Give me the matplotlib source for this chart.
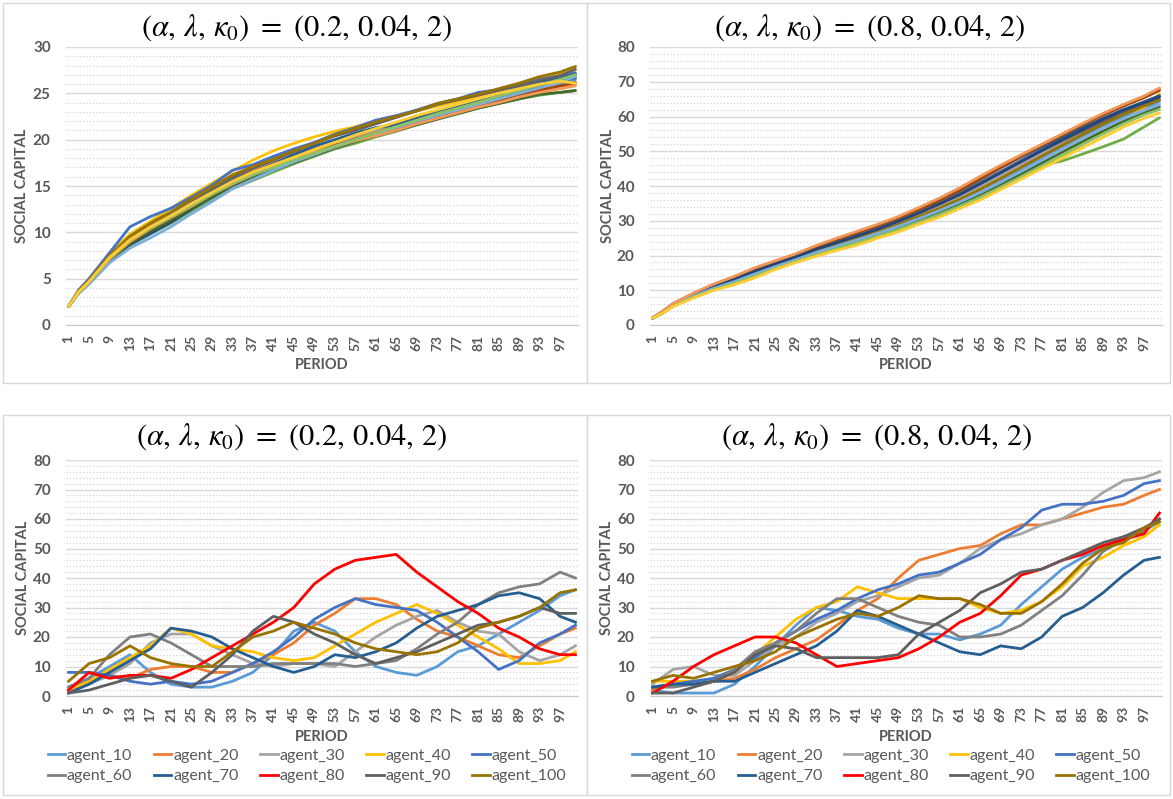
"""Social capital paths for (alpha, lambda, kappa0) settings: 2x2 panel figure.

Top row: all agents, smooth growth. Bottom row: ten sampled agents.
Output: out.png (1173x799).
"""

import matplotlib.pyplot as plt
from matplotlib.lines import Line2D
from matplotlib.patches import Rectangle
from matplotlib.ticker import MultipleLocator

W, H = 1173, 799
GREY_TXT = "#595959"

plt.rcParams["font.family"] = ["Lato", "DejaVu Sans"]
plt.rcParams["mathtext.fontset"] = "stix"

TITLE_LOW = r"$(\alpha,\,\lambda,\,\kappa_0)\ =\ (0.2,\,0.04,\,2)$"
TITLE_HIGH = r"$(\alpha,\,\lambda,\,\kappa_0)\ =\ (0.8,\,0.04,\,2)$"

# ---- top row: every agent (sampled periods) ----
PERIODS_TOP = [1, 3, 5, 9, 13, 17, 21, 25, 29, 33, 37, 41, 45, 49, 53,
               57, 61, 65, 69, 73, 77, 81, 85, 89, 93, 97, 100]

TOP_COLORS = ["#5B9BD5", "#ED7D31", "#A5A5A5", "#FFC000", "#4472C4", "#70AD47",
              "#255E91", "#9E480E", "#636363", "#997300", "#264478", "#43682B",
              "#7CAFDD", "#F1975A", "#8CC168", "#FFCD33"]

TL_CURVES = [
    [2, 3.5, 4.5, 6.9, 8.6, 9.8, 11.0, 12.4, 13.7, 15.0, 16.0, 17.0, 17.9, 18.7, 19.5, 20.2, 20.9, 21.6, 22.2, 22.9, 23.5, 24.0, 24.6, 25.1, 25.7, 26.1, 26.5],
    [2, 3.6, 4.7, 7.2, 9.3, 10.6, 11.7, 13.0, 14.4, 15.8, 16.6, 17.5, 18.3, 19.0, 19.6, 20.2, 20.8, 21.4, 22.0, 22.7, 23.2, 23.8, 24.3, 24.9, 25.4, 25.8, 26.0],
    [2, 3.5, 4.6, 7.0, 8.9, 10.2, 11.4, 12.7, 14.0, 15.3, 16.3, 17.2, 18.1, 18.9, 19.7, 20.4, 21.1, 21.8, 22.5, 23.1, 23.7, 24.3, 24.9, 25.5, 26.1, 26.7, 27.1],
    [2, 3.7, 4.9, 7.7, 9.8, 11.2, 12.6, 14.0, 15.3, 16.6, 17.8, 18.8, 19.6, 20.3, 20.9, 21.4, 22.0, 22.5, 23.1, 23.6, 24.1, 24.7, 25.3, 26.0, 26.7, 27.1, 27.5],
    [2, 3.8, 5.0, 7.8, 10.6, 11.7, 12.6, 13.8, 15.1, 16.7, 17.3, 18.2, 19.0, 19.7, 20.6, 21.3, 22.1, 22.6, 23.2, 23.9, 24.4, 25.1, 25.4, 25.9, 26.5, 26.9, 27.2],
    [2, 3.5, 4.5, 6.8, 8.6, 9.9, 11.0, 12.3, 13.4, 14.7, 15.6, 16.5, 17.4, 18.2, 19.0, 19.6, 20.3, 20.9, 21.6, 22.3, 22.8, 23.4, 23.9, 24.4, 24.8, 25.1, 25.3],
    [2, 3.6, 4.7, 7.1, 9.0, 10.3, 11.5, 12.9, 14.3, 15.6, 16.5, 17.4, 18.4, 19.3, 20.0, 20.7, 21.3, 21.6, 22.3, 23.0, 23.6, 24.3, 24.9, 25.6, 26.2, 26.7, 27.0],
    [2, 3.5, 4.6, 7.0, 8.8, 10.0, 11.3, 12.6, 13.9, 15.2, 16.2, 17.0, 17.9, 18.8, 19.4, 19.9, 20.5, 21.1, 21.7, 22.4, 23.0, 23.6, 24.2, 24.8, 25.3, 25.8, 26.2],
    [2, 3.6, 4.8, 7.3, 9.4, 10.7, 11.9, 13.3, 14.6, 15.9, 16.9, 17.8, 18.7, 19.6, 20.4, 21.0, 21.7, 22.4, 23.1, 23.8, 24.3, 24.8, 25.3, 25.8, 26.4, 26.9, 27.6],
    [2, 3.7, 4.8, 7.5, 9.6, 11.0, 12.2, 13.6, 14.9, 16.2, 17.1, 17.9, 18.8, 19.6, 20.5, 21.2, 21.9, 22.5, 23.1, 23.9, 24.4, 24.9, 25.5, 26.1, 26.8, 27.3, 27.9],
    [2, 3.5, 4.6, 7.0, 8.7, 9.9, 11.1, 12.5, 13.8, 15.1, 16.1, 16.9, 17.8, 18.6, 19.3, 20.0, 20.6, 21.2, 21.8, 22.6, 23.2, 23.9, 24.5, 25.1, 25.7, 26.3, 26.7],
    [2, 3.5, 4.5, 6.9, 8.8, 10.1, 11.3, 12.6, 13.8, 15.0, 15.9, 16.7, 17.5, 18.3, 19.1, 19.8, 20.4, 21.0, 21.6, 22.2, 22.8, 23.4, 23.9, 24.4, 24.9, 25.1, 25.3],
    [2, 3.4, 4.4, 6.7, 8.3, 9.4, 10.6, 12.0, 13.3, 14.7, 15.7, 16.7, 17.6, 18.4, 19.2, 19.9, 20.6, 21.3, 22.0, 22.6, 23.2, 23.8, 24.4, 25.0, 25.6, 26.2, 26.8],
    [2, 3.5, 4.6, 7.1, 9.0, 10.4, 11.6, 12.8, 14.1, 15.2, 16.2, 17.1, 17.9, 18.6, 19.3, 19.9, 20.4, 21.0, 21.7, 22.3, 22.9, 23.5, 24.0, 24.6, 25.1, 25.5, 25.8],
    [2, 3.5, 4.6, 7.2, 9.2, 10.5, 11.7, 12.9, 14.1, 15.3, 16.2, 17.0, 17.8, 18.5, 19.3, 20.0, 20.7, 21.4, 22.1, 22.8, 23.4, 24.0, 24.7, 25.3, 25.9, 26.5, 27.0],
    [2, 3.6, 4.7, 7.3, 9.2, 10.6, 11.8, 13.1, 14.3, 15.5, 16.5, 17.3, 18.1, 18.9, 19.7, 20.5, 21.2, 21.9, 22.6, 23.2, 23.8, 24.4, 25.0, 25.5, 26.0, 26.3, 26.1],
]

TR_CURVES = [
    [2, 3.6, 5.7, 8.5, 10.8, 12.8, 15.0, 17.2, 19.2, 21.3, 23.1, 24.9, 26.8, 28.8, 31.0, 33.3, 35.8, 38.5, 41.5, 44.6, 47.8, 51.0, 54.2, 57.2, 60.0, 62.5, 64.2],
    [2, 3.9, 6.1, 9.1, 11.7, 13.9, 16.3, 18.4, 20.4, 22.7, 24.7, 26.7, 28.7, 30.9, 33.4, 36.1, 39.1, 42.3, 45.6, 48.7, 51.7, 54.7, 57.7, 60.6, 63.2, 65.7, 67.9],
    [2, 3.7, 5.8, 8.6, 11.0, 13.0, 15.3, 17.5, 19.5, 21.7, 23.6, 25.5, 27.4, 29.5, 31.8, 34.3, 37.0, 39.9, 43.0, 46.2, 49.3, 52.3, 55.3, 58.2, 60.9, 63.4, 65.0],
    [2, 3.4, 5.4, 7.9, 10.1, 11.7, 13.7, 16.1, 18.1, 19.9, 21.6, 23.2, 25.1, 27.0, 29.2, 31.2, 33.7, 36.3, 39.3, 42.3, 45.5, 48.7, 52.0, 55.5, 58.9, 62.5, 66.5],
    [2, 3.8, 5.9, 8.8, 11.2, 13.3, 15.6, 17.7, 19.8, 22.0, 24.0, 26.0, 28.0, 30.2, 32.6, 35.2, 38.0, 41.0, 44.2, 47.4, 50.6, 53.7, 56.7, 59.5, 62.0, 64.2, 65.8],
    [2, 3.5, 5.5, 8.2, 10.5, 12.4, 14.6, 16.8, 18.8, 20.8, 22.6, 24.3, 26.2, 28.1, 30.3, 32.5, 35.0, 37.6, 40.5, 43.5, 46.0, 47.2, 49.2, 51.3, 53.5, 57.0, 59.6],
    [2, 3.8, 6.0, 8.9, 11.4, 13.5, 15.8, 18.0, 20.0, 22.2, 24.2, 26.3, 28.4, 30.6, 33.0, 35.7, 38.7, 41.9, 45.3, 48.4, 51.3, 54.0, 56.8, 59.4, 61.9, 64.2, 66.0],
    [2, 3.9, 6.1, 9.0, 11.6, 13.8, 16.2, 18.3, 20.3, 22.5, 24.5, 26.5, 28.5, 30.7, 33.1, 35.8, 38.8, 42.0, 45.3, 48.5, 51.6, 54.6, 57.6, 60.4, 63.0, 65.4, 67.5],
    [2, 3.7, 5.8, 8.7, 11.1, 13.2, 15.5, 17.6, 19.6, 21.8, 23.8, 25.8, 27.8, 30.0, 32.4, 35.0, 37.8, 40.8, 44.0, 47.1, 50.1, 53.0, 55.8, 58.5, 61.0, 63.3, 64.8],
    [2, 3.6, 5.6, 8.3, 10.6, 12.6, 14.9, 17.0, 19.0, 21.1, 23.0, 24.9, 26.9, 28.9, 31.2, 33.6, 36.2, 39.1, 42.2, 45.4, 48.6, 51.7, 54.8, 57.8, 60.6, 63.0, 64.8],
    [2, 3.7, 5.9, 8.8, 11.2, 13.2, 15.4, 17.6, 19.6, 21.8, 23.7, 25.6, 27.6, 29.8, 32.2, 34.8, 37.5, 40.6, 43.8, 47.0, 50.2, 53.3, 56.3, 59.2, 61.8, 64.0, 65.6],
    [2, 3.5, 5.5, 8.1, 10.4, 12.2, 14.4, 16.6, 18.6, 20.6, 22.4, 24.2, 26.0, 28.0, 30.1, 32.3, 34.8, 37.5, 40.4, 43.5, 46.6, 49.7, 52.8, 55.8, 58.6, 61.0, 62.8],
    [2, 3.5, 5.6, 8.3, 10.6, 12.5, 14.7, 16.8, 18.8, 20.9, 22.7, 24.5, 26.4, 28.4, 30.6, 32.9, 35.4, 38.1, 41.1, 44.2, 47.4, 50.6, 53.7, 56.7, 59.4, 61.8, 63.4],
    [2, 4.0, 6.2, 9.2, 11.8, 14.0, 16.5, 18.5, 20.5, 22.9, 25.0, 27.0, 29.0, 31.2, 33.8, 36.5, 39.5, 42.8, 46.0, 49.0, 52.0, 55.0, 58.0, 60.9, 63.5, 65.9, 68.2],
    [2, 3.4, 5.4, 8.0, 10.2, 12.0, 14.1, 16.3, 18.3, 20.2, 22.0, 23.7, 25.6, 27.5, 29.6, 31.8, 34.2, 36.8, 39.7, 42.7, 45.8, 48.9, 52.0, 55.0, 57.9, 60.5, 62.0],
    [2, 3.4, 5.3, 7.8, 10.0, 11.6, 13.6, 16.0, 18.0, 19.8, 21.5, 23.0, 25.0, 26.8, 29.0, 31.0, 33.5, 36.0, 39.0, 42.0, 45.0, 48.0, 51.0, 54.0, 57.0, 59.5, 61.0],
]

# ---- bottom row: ten sampled agents ----
PERIODS_BOT = [1, 5, 9, 13, 17, 21, 25, 29, 33, 37, 41, 45, 49,
               53, 57, 61, 65, 69, 73, 77, 81, 85, 89, 93, 97, 100]

AGENTS = ["agent_10", "agent_20", "agent_30", "agent_40", "agent_50",
          "agent_60", "agent_70", "agent_80", "agent_90", "agent_100"]
AGENT_COLORS = ["#5B9BD5", "#ED7D31", "#A5A5A5", "#FFC000", "#4472C4",
                "#808080", "#255E91", "#FF0000", "#5F5F5F", "#997300"]

# alpha = 0.2
BL_10 = [3, 6, 10, 14, 8, 4, 3, 3, 5, 8, 14, 22, 25, 22, 15, 10, 8, 7, 10, 15, 17, 21, 25, 29, 34, 36]
BL_20 = [2, 5, 7, 6, 9, 10, 10, 8, 8, 11, 14, 18, 24, 28, 33, 33, 31, 26, 22, 20, 17, 14, 13, 17, 21, 23]
BL_30 = [2, 4, 7, 11, 18, 21, 21, 17, 14, 11, 10, 11, 11, 10, 15, 20, 24, 27, 29, 25, 22, 21, 15, 12, 14, 17]
BL_40 = [2, 5, 9, 13, 17, 23, 21, 17, 16, 15, 13, 12, 13, 17, 21, 25, 28, 31, 28, 24, 20, 16, 11, 11, 12, 15]
BL_50 = [8, 8, 7, 5, 4, 5, 4, 5, 8, 11, 15, 20, 26, 30, 33, 31, 30, 29, 25, 20, 15, 9, 12, 18, 21, 24]
BL_60 = [3, 6, 14, 20, 21, 18, 14, 10, 10, 10, 11, 11, 11, 11, 10, 11, 12, 16, 21, 25, 31, 35, 37, 38, 42, 40]
BL_70 = [1, 4, 8, 12, 16, 23, 22, 20, 16, 13, 10, 8, 10, 14, 13, 15, 18, 23, 27, 29, 31, 34, 35, 33, 27, 25]
BL_80 = [2, 8, 6, 7, 7, 6, 9, 13, 17, 21, 25, 30, 38, 43, 46, 47, 48, 42, 37, 32, 28, 23, 20, 16, 14, 14]
BL_90 = [1, 2, 4, 6, 7, 5, 3, 8, 14, 22, 27, 25, 21, 18, 14, 11, 13, 15, 18, 21, 24, 25, 27, 30, 28, 28]
BL_100 = [5, 11, 13, 17, 13, 11, 10, 10, 15, 20, 22, 25, 23, 21, 18, 16, 15, 14, 15, 18, 23, 25, 27, 30, 35, 36]

# alpha = 0.8
BR_10 = [2, 1, 1, 1, 4, 10, 17, 24, 30, 29, 27, 26, 23, 21, 21, 19, 21, 24, 31, 37, 43, 47, 50, 54, 56, 59]
BR_20 = [2, 4, 4, 5, 6, 9, 13, 16, 19, 24, 29, 33, 40, 46, 48, 50, 51, 55, 58, 58, 60, 62, 64, 65, 68, 70]
BR_30 = [4, 9, 10, 7, 7, 12, 17, 20, 25, 28, 32, 34, 37, 40, 41, 45, 50, 53, 55, 58, 60, 64, 69, 73, 74, 76]
BR_40 = [5, 5, 5, 5, 8, 14, 20, 26, 30, 32, 37, 35, 33, 33, 33, 33, 30, 28, 29, 32, 37, 44, 47, 51, 54, 58]
BR_50 = [3, 4, 5, 6, 9, 13, 18, 22, 26, 29, 33, 36, 38, 41, 42, 45, 48, 53, 57, 63, 65, 65, 66, 68, 72, 73]
BR_60 = [3, 3, 4, 5, 9, 15, 18, 22, 28, 33, 33, 30, 27, 25, 24, 20, 20, 21, 24, 29, 34, 41, 49, 53, 56, 60]
BR_70 = [3, 4, 4, 5, 5, 8, 11, 14, 17, 22, 29, 27, 24, 21, 18, 15, 14, 17, 16, 20, 27, 30, 35, 41, 46, 47]
BR_80 = [1, 5, 10, 14, 17, 20, 20, 18, 14, 10, 11, 12, 13, 16, 20, 25, 28, 34, 41, 43, 46, 48, 51, 53, 55, 62]
BR_90 = [1, 1, 3, 5, 8, 14, 17, 16, 13, 13, 13, 13, 14, 21, 25, 29, 35, 38, 42, 43, 46, 49, 52, 54, 57, 60]
BR_100 = [5, 7, 6, 8, 10, 12, 15, 20, 23, 26, 28, 27, 30, 34, 33, 33, 31, 28, 28, 32, 38, 45, 50, 52, 57, 59]

BL_SERIES = [BL_10, BL_20, BL_30, BL_40, BL_50, BL_60, BL_70, BL_80, BL_90, BL_100]
BR_SERIES = [BR_10, BR_20, BR_30, BR_40, BR_50, BR_60, BR_70, BR_80, BR_90, BR_100]

X_TICKS = list(range(1, 100, 4))


def px_axes(fig, left, top, right, bottom):
    """Add axes placed by pixel box (origin top-left)."""
    return fig.add_axes([left / W, 1 - bottom / H, (right - left) / W, (bottom - top) / H])


def panel_frame(fig, left, top, right, bottom):
    fig.patches.append(Rectangle((left / W, 1 - bottom / H), (right - left) / W,
                                 (bottom - top) / H, transform=fig.transFigure,
                                 fill=False, edgecolor="#d9d9d9", lw=1.0, zorder=0))


def style_axes(ax, ymax, major, minor):
    ax.set_xlim(0.5, 100.5)
    ax.set_ylim(0, ymax)
    ax.set_xticks(X_TICKS)
    ax.set_xticklabels([str(t) for t in X_TICKS], rotation=90)
    ax.yaxis.set_major_locator(MultipleLocator(major))
    ax.yaxis.set_minor_locator(MultipleLocator(minor))
    ax.tick_params(axis="both", which="both", length=0, colors=GREY_TXT)
    ax.tick_params(axis="y", which="major", pad=11, labelsize=11)
    ax.tick_params(axis="x", which="major", pad=7, labelsize=10)
    for lbl in ax.get_yticklabels() + ax.get_xticklabels():
        lbl.set_fontweight("bold")
    ax.grid(True, axis="y", which="major", color="#d9d9d9", lw=1.0, zorder=0)
    ax.grid(True, axis="y", which="minor", color="#d8c8d8", lw=0.8,
            linestyle=(0, (1, 2)), zorder=0)
    for side in ("top", "right", "left"):
        ax.spines[side].set_visible(False)
    ax.spines["bottom"].set_color("#c8c8c8")
    ax.set_axisbelow(True)


def axis_titles(fig, x_ylab, y_ylab, x_xlab, y_xlab):
    fig.text(x_ylab / W, 1 - y_ylab / H, "SOCIAL CAPITAL", rotation=90, ha="center",
             va="center", fontsize=10.5, fontweight="bold", color=GREY_TXT)
    fig.text(x_xlab / W, 1 - y_xlab / H, "PERIOD", ha="center", va="center",
             fontsize=10.5, fontweight="bold", color=GREY_TXT)


fig = plt.figure(figsize=(W / 100, H / 100), dpi=100)

panel_frame(fig, 3, 3, 587, 383)
panel_frame(fig, 587, 3, 1170, 383)
panel_frame(fig, 3, 415, 587, 795)
panel_frame(fig, 587, 415, 1170, 795)

# ---- top left ----
ax = px_axes(fig, 66, 47, 578, 325)
style_axes(ax, 30, 5, 1)
for vals, col in zip(TL_CURVES, TOP_COLORS):
    ax.plot(PERIODS_TOP, vals, color=col, lw=2.0, solid_capstyle="round")
fig.text(297 / W, 1 - 28 / H, TITLE_LOW, ha="center", va="center", fontsize=22)
axis_titles(fig, 22, 186, 322, 365)

# ---- top right ----
ax = px_axes(fig, 650, 47, 1162, 325)
style_axes(ax, 80, 10, 2)
for vals, col in zip(TR_CURVES, TOP_COLORS):
    ax.plot(PERIODS_TOP, vals, color=col, lw=2.0, solid_capstyle="round")
fig.text(870 / W, 1 - 28 / H, TITLE_HIGH, ha="center", va="center", fontsize=22)
axis_titles(fig, 608, 186, 906, 365)

# legend fills column by column, so interleave the two rows
LEGEND_ORDER = [0, 5, 1, 6, 2, 7, 3, 8, 4, 9]

# ---- bottom panels ----
for left, series, title, tcx in ((66, BL_SERIES, TITLE_LOW, 292),
                                 (650, BR_SERIES, TITLE_HIGH, 877)):
    ax = px_axes(fig, left, 460, left + 512, 696)
    style_axes(ax, 80, 10, 2)
    for vals, col in zip(series, AGENT_COLORS):
        ax.plot(PERIODS_BOT, vals, color=col, lw=2.0)
    fig.text(tcx / W, 1 - 437 / H, title, ha="center", va="center", fontsize=22)
    axis_titles(fig, left - 43, 578, left + 256, 737)
    handles = [Line2D([], [], color=AGENT_COLORS[i], lw=2.0) for i in LEGEND_ORDER]
    labels = [AGENTS[i] for i in LEGEND_ORDER]
    ax.legend(handles, labels, ncol=5, loc="center",
              bbox_to_anchor=((left - 22 + 263) / W, 1 - 766 / H),
              bbox_transform=fig.transFigure, frameon=False, fontsize=11.5,
              handlelength=1.1, handletextpad=0.1, columnspacing=1.35,
              labelspacing=0.4, labelcolor=GREY_TXT, borderpad=0)

fig.savefig("out.png", dpi=100)
